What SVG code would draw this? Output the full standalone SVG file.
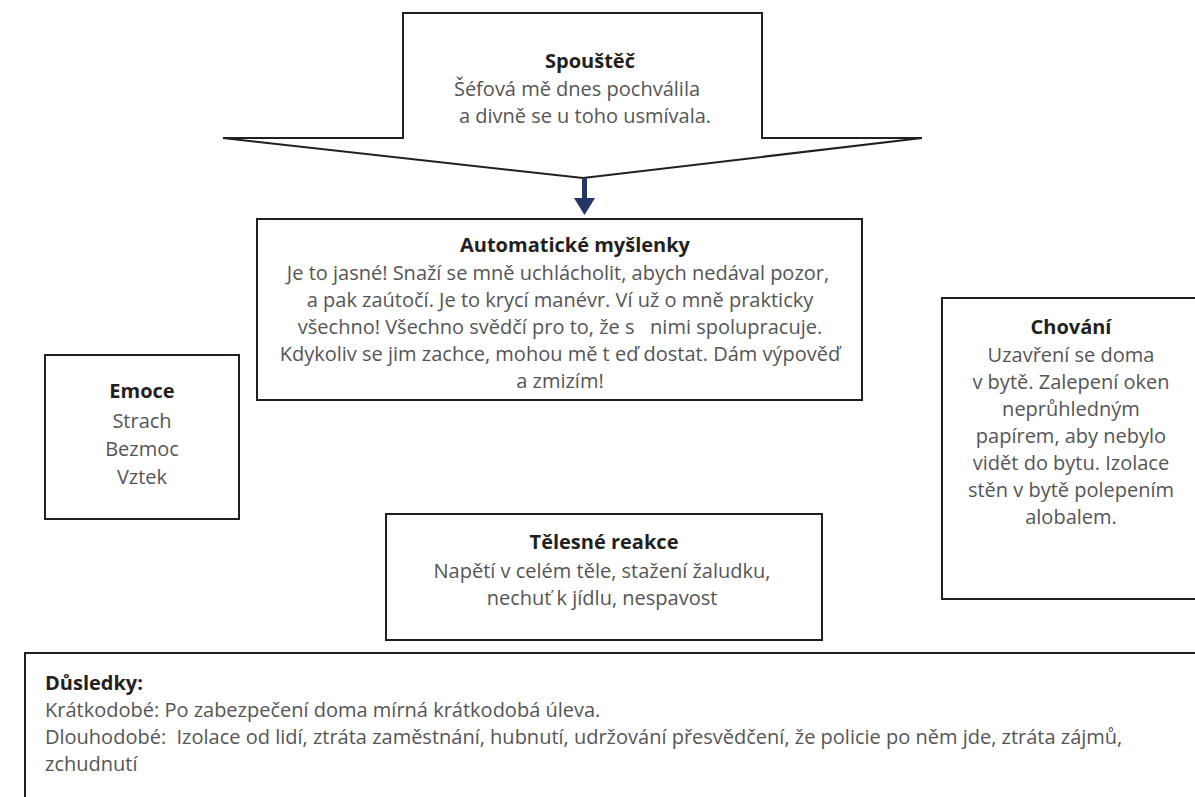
<svg xmlns="http://www.w3.org/2000/svg" width="1195" height="797" viewBox="0 0 1195 797">
<style>
.box{fill:#fff;stroke:#231f20;stroke-width:2}
.t{font-family:"Open Sans","Liberation Sans",sans-serif;font-size:20px;font-weight:bold;fill:#231f20;text-anchor:middle}
.b{font-family:"Open Sans","Liberation Sans",sans-serif;font-size:20px;fill:#555557;text-anchor:middle}
.l{text-anchor:start}
.arrow{fill:#233668}
</style>
<rect width="1195" height="797" fill="#fff"/>
<g id="spoustec">
<path class="box" d="M403,13 L762,13 L762,138 L922,138 L583,178 L223,138 L403,138 Z"/>
<text class="t" x="590" y="68">Spouštěč</text>
<text class="b" x="577" y="96">Šéfová mě dnes pochválila</text>
<text class="b" x="585" y="123">a divně se u toho usmívala.</text>
</g>
<g id="connectors">
<line x1="584.5" y1="178" x2="584.5" y2="200" stroke="#233668" stroke-width="5"/>
<path class="arrow" d="M574,198 L595,198 L584.5,215 Z"/>
</g>
<g id="automaticke">
<rect class="box" x="257" y="219" width="605" height="181"/>
<text class="t" x="575" y="252">Automatické myšlenky</text>
<text class="b" x="558" y="280">Je to jasné! Snaží se mně uchlácholit, abych nedával pozor,</text>
<text class="b" x="560" y="307">a pak zaútočí. Je to krycí manévr. Ví už o mně prakticky</text>
<text class="b" x="560" y="334" xml:space="preserve">všechno! Všechno svědčí pro to, že s   nimi spolupracuje.</text>
<text class="b" x="560" y="361">Kdykoliv se jim zachce, mohou mě t eď dostat. Dám výpověď</text>
<text class="b" x="560" y="388">a zmizím!</text>
</g>
<g id="emoce">
<rect class="box" x="45" y="355" width="194" height="164"/>
<text class="t" x="142" y="398">Emoce</text>
<text class="b" x="142" y="428">Strach</text>
<text class="b" x="142" y="456">Bezmoc</text>
<text class="b" x="142" y="484">Vztek</text>
</g>
<g id="chovani">
<rect class="box" x="942" y="298" width="270" height="301"/>
<text class="t" x="1071" y="334">Chování</text>
<text class="b" x="1071" y="362">Uzavření se doma</text>
<text class="b" x="1071" y="389">v bytě. Zalepení oken</text>
<text class="b" x="1071" y="416">neprůhledným</text>
<text class="b" x="1071" y="443">papírem, aby nebylo</text>
<text class="b" x="1071" y="470">vidět do bytu. Izolace</text>
<text class="b" x="1071" y="497">stěn v bytě polepením</text>
<text class="b" x="1071" y="524">alobalem.</text>
</g>
<g id="telesne">
<rect class="box" x="386" y="514" width="436" height="126"/>
<text class="t" x="604" y="549">Tělesné reakce</text>
<text class="b" x="602" y="578">Napětí v celém těle, stažení žaludku,</text>
<text class="b" x="602" y="605">nechuť k jídlu, nespavost</text>
</g>
<g id="dusledky">
<rect class="box" x="25" y="653" width="1190" height="160"/>
<text class="t l" x="45" y="690">Důsledky:</text>
<text class="b l" x="45" y="717">Krátkodobé: Po zabezpečení doma mírná krátkodobá úleva.</text>
<text class="b l" x="45" y="744" xml:space="preserve">Dlouhodobé:  Izolace od lidí, ztráta zaměstnání, hubnutí, udržování přesvědčení, že policie po něm jde, ztráta zájmů,</text>
<text class="b l" x="45" y="771">zchudnutí</text>
</g>
</svg>
